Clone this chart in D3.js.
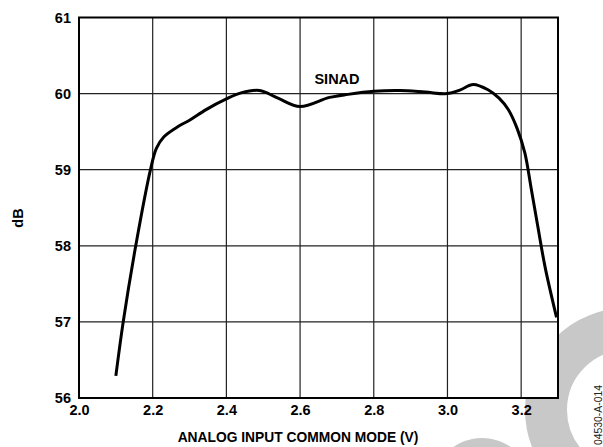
<!DOCTYPE html>
<html>
<head>
<meta charset="utf-8">
<script src="https://cdn.jsdelivr.net/npm/d3@7"></script>
<style>
  body { margin: 0; background: #fff; }
  text { font-family: "Liberation Sans", Arial, sans-serif; }
</style>
</head>
<body>
<div id="chart"></div>
<script>
// common-mode voltage (V) and SINAD (dB)
var vcm = [2.10, 2.12, 2.154, 2.194, 2.21, 2.23, 2.27, 2.30, 2.345, 2.40, 2.44, 2.49,
  2.54, 2.60, 2.68, 2.73, 2.80, 2.87, 2.94, 3.00, 3.035, 3.07, 3.11, 3.14, 3.165,
  3.19, 3.21, 3.227, 3.245, 3.265, 3.296];
var sinad = [56.29, 57.0, 58.0, 59.0, 59.28, 59.43, 59.57, 59.65, 59.79, 59.93, 60.01, 60.04,
  59.94, 59.83, 59.95, 59.99, 60.03, 60.04, 60.02, 60.00, 60.05, 60.12, 60.05, 59.94, 59.79,
  59.53, 59.22, 58.76, 58.26, 57.72, 57.06];
var xTicks = [2.0, 2.2, 2.4, 2.6, 2.8, 3.0, 3.2];
var yTicks = [56, 57, 58, 59, 60, 61];

var width = 603, height = 447;
var margin = {top: 17.5, right: 45, bottom: 49, left: 79};
var pw = width - margin.left - margin.right,
    ph = height - margin.top - margin.bottom;

var svg = d3.select("#chart").append("svg")
    .attr("width", width)
    .attr("height", height);

// grey logo ring behind everything
svg.append("circle")
    .attr("cx", 627).attr("cy", 410).attr("r", 81)
    .attr("fill", "none")
    .attr("stroke", "#c8c8c8")
    .attr("stroke-width", 42);
svg.append("circle")
    .attr("cx", 482).attr("cy", 488).attr("r", 50)
    .attr("fill", "#c8c8c8");

var g = svg.append("g")
    .attr("transform", "translate(" + margin.left + "," + margin.top + ")");

var x = d3.scaleLinear().domain([2.0, 3.3]).range([0, pw]);
var y = d3.scaleLinear().domain([56, 61]).range([ph, 0]);

g.append("rect")
    .attr("width", pw).attr("height", ph)
    .attr("fill", "#fff");

// grid
g.append("g").selectAll("line")
    .data(xTicks.slice(1))
  .enter().append("line")
    .attr("x1", function(d) { return x(d); })
    .attr("x2", function(d) { return x(d); })
    .attr("y1", 0).attr("y2", ph)
    .attr("stroke", "#222").attr("stroke-width", 1.2);

g.append("g").selectAll("line")
    .data(yTicks.slice(1, -1))
  .enter().append("line")
    .attr("y1", function(d) { return y(d); })
    .attr("y2", function(d) { return y(d); })
    .attr("x1", 0).attr("x2", pw)
    .attr("stroke", "#222").attr("stroke-width", 1.2);

g.append("rect")
    .attr("width", pw).attr("height", ph)
    .attr("fill", "none")
    .attr("stroke", "#000").attr("stroke-width", 2);

// axes (labels only)
var xAxis = g.append("g")
    .attr("transform", "translate(0," + ph + ")")
    .call(d3.axisBottom(x).tickValues(xTicks).tickFormat(d3.format(".1f")).tickSize(0).tickPadding(7));
var yAxis = g.append("g")
    .call(d3.axisLeft(y).tickValues(yTicks).tickFormat(d3.format("d")).tickSize(0).tickPadding(8));
[xAxis, yAxis].forEach(function(a) {
  a.select(".domain").remove();
  a.selectAll("text")
    .attr("font-family", "Liberation Sans, Arial, sans-serif")
    .attr("font-size", 14.5)
    .attr("font-weight", "bold")
    .attr("fill", "#000");
});

// curve
var pts = vcm.map(function(v, i) { return [v, sinad[i]]; });
var line = d3.line()
    .x(function(d) { return x(d[0]); })
    .y(function(d) { return y(d[1]); })
    .curve(d3.curveCatmullRom.alpha(0.5));

g.append("path")
    .datum(pts)
    .attr("d", line)
    .attr("fill", "none")
    .attr("stroke", "#000")
    .attr("stroke-width", 3)
    .attr("stroke-linejoin", "round");

svg.append("text")
    .attr("x", 337).attr("y", 84)
    .attr("text-anchor", "middle")
    .attr("font-size", 14.5).attr("font-weight", "bold")
    .text("SINAD");

svg.append("text")
    .attr("x", 298).attr("y", 442)
    .attr("text-anchor", "middle")
    .attr("font-size", 13.8).attr("font-weight", "bold")
    .text("ANALOG INPUT COMMON MODE (V)");

svg.append("text")
    .attr("transform", "translate(22.5,218) rotate(-90)")
    .attr("text-anchor", "middle")
    .attr("font-size", 14.5).attr("font-weight", "bold")
    .text("dB");

svg.append("text")
    .attr("transform", "translate(602,415) rotate(-90)")
    .attr("text-anchor", "middle")
    .attr("font-size", 10.4)
    .attr("fill", "#222")
    .text("04530-A-014");
</script>
</body>
</html>
